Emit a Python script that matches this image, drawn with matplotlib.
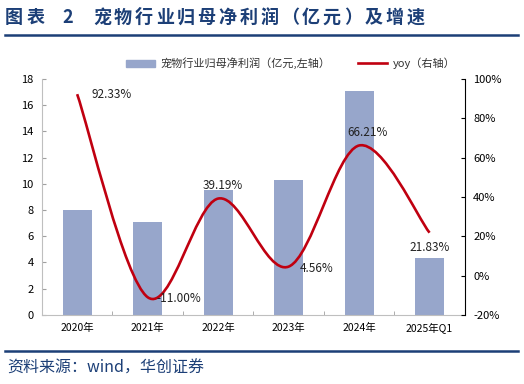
import matplotlib.pyplot as plt
import numpy as np
from matplotlib.path import Path as MPath
from matplotlib.patches import PathPatch
from matplotlib.lines import Line2D
from matplotlib.patches import Patch

plt.rcParams['font.family'] = ['Noto Sans CJK SC', 'DejaVu Sans']

categories = ["2020年", "2021年", "2022年", "2023年", "2024年", "2025年Q1"]
profit = [7.97, 7.06, 9.5, 10.3, 17.1, 4.33]
yoy = [92.33, -11.00, 39.19, 4.56, 66.21, 21.83]
yoy_labels = ["92.33%", "-11.00%", "39.19%", "4.56%", "66.21%", "21.83%"]

BAR = "#97a6cb"
RED = "#c00010"
NAVY = "#1c3f77"


def smooth_path(xs, ys):
    # Excel-like smoothed line: Catmull-Rom converted to cubic Bezier
    pts = np.column_stack([xs, ys]).astype(float)
    ext = np.vstack([pts[0], pts, pts[-1]])
    verts = [tuple(pts[0])]
    codes = [MPath.MOVETO]
    for i in range(len(pts) - 1):
        p0, p1, p2, p3 = ext[i], ext[i + 1], ext[i + 2], ext[i + 3]
        c1 = p1 + (p2 - p0) / 6
        c2 = p2 - (p3 - p1) / 6
        verts += [tuple(c1), tuple(c2), tuple(p2)]
        codes += [MPath.CURVE4] * 3
    return MPath(verts, codes)


fig = plt.figure(figsize=(5.24, 3.84), dpi=100)
ax = fig.add_axes([0.080, 0.180, 0.807, 0.614])
x = np.arange(len(categories))
ax.bar(x, profit, width=0.41, color=BAR, zorder=1)
ax.set_xlim(-0.5, len(categories) - 0.5)
ax.set_ylim(0, 18)
ax.set_yticks(range(0, 19, 2))
ax.set_xticks(x, categories)
ax.set_xticks(np.arange(-0.5, len(categories), 1.0), minor=True)
ax.tick_params(axis="x", which="major", length=0, labelsize=7.5, pad=6)
ax.tick_params(axis="x", which="minor", direction="in", length=3, color="#a0a0a0")
ax.tick_params(axis="y", direction="in", length=3, color="#a0a0a0", labelsize=8, pad=6)
for s in ("left", "bottom"):
    ax.spines[s].set_color("#bfbfbf")
ax.spines["top"].set_visible(False)
ax.spines["right"].set_visible(False)

ax2 = ax.twinx()
ax2.set_ylim(-20, 100)
ax2.set_yticks(range(-20, 101, 20))
ax2.set_yticklabels([f"{v}%" for v in range(-20, 101, 20)])
ax2.tick_params(axis="y", direction="in", length=3, labelsize=8, pad=6, color="black")
ax2.spines["right"].set_color("black")
for s in ("left", "top", "bottom"):
    ax2.spines[s].set_visible(False)
ax2.add_patch(PathPatch(smooth_path(x, yoy), facecolor="none", edgecolor=RED, lw=1.9, zorder=3))

offsets = [(10, 0, "left", "center"), (6, -1, "left", "center"), (3, 5, "center", "bottom"),
           (8, -1, "left", "center"), (6, 5, "center", "bottom"), (0, -6, "center", "top")]
for xi, yi, lab, (dx, dy, ha, va) in zip(x, yoy, yoy_labels, offsets):
    ax2.annotate(lab, (xi, yi), xytext=(dx, dy), textcoords="offset points",
                 ha=ha, va=va, fontsize=8.5, color="#222222", zorder=4)

handles = [Patch(color=BAR, label="宠物行业归母净利润（亿元,左轴）"),
           Line2D([], [], color=RED, lw=1.9, label="yoy（右轴）")]
fig.legend(handles=handles, loc="center", bbox_to_anchor=(0.555, 0.835), ncol=2,
           frameon=False, fontsize=8, handlelength=2.6, handleheight=0.6, columnspacing=2.5,
           handletextpad=0.5, labelcolor="#333333")

# title with wide character spacing like the original
title_head = ["图", "表", "2"]
title_head_x = [5, 27, 62]
title_body = "宠物行业归母净利润（亿元）及增速"
for ch, px in zip(title_head, title_head_x):
    fig.text(px / 524, 0.955, ch, fontsize=13, fontweight="bold", color=NAVY,
             va="center", ha="left")
for i, ch in enumerate(title_body):
    fig.text((93 + i * 20.9) / 524, 0.955, ch, fontsize=13, fontweight="bold",
             color=NAVY, va="center", ha="left")

fig.add_artist(Line2D([0.01, 0.988], [0.91, 0.91], color=NAVY, lw=1.8))
fig.add_artist(Line2D([0.01, 0.988], [0.087, 0.087], color=NAVY, lw=1.8))
fig.text(0.014, 0.04, "资料来源：wind，华创证券", fontsize=11.5, color=NAVY,
         style="italic", va="center", ha="left")

fig.savefig("out.png", dpi=100)
